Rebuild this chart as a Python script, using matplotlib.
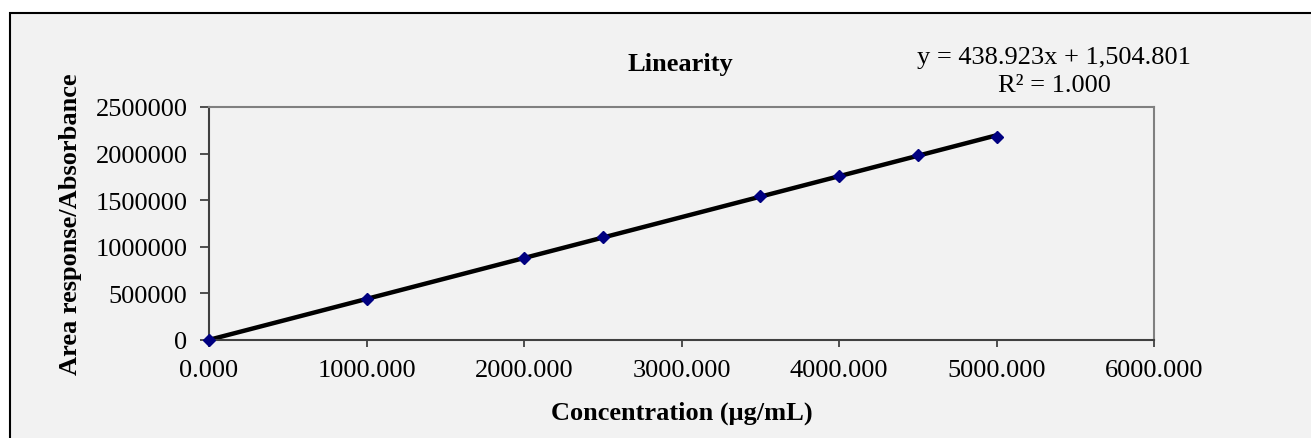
import numpy as np
import matplotlib
matplotlib.use("Agg")
import matplotlib.pyplot as plt
from matplotlib.patches import Rectangle
from matplotlib.ticker import FormatStrFormatter

# concentration (ug/mL) and response
conc = [0, 1000, 2000, 2500, 3500, 4000, 4500, 5000]
response = [0, 440000, 880000, 1100000, 1540000, 1760000, 1990000, 2180000]
slope = 438.923
intercept = 1504.801
x_ticks = [0, 1000, 2000, 3000, 4000, 5000, 6000]
y_ticks = [0, 500000, 1000000, 1500000, 2000000, 2500000]

plt.rcParams['font.family'] = ['Liberation Serif', 'DejaVu Serif']
bg = '#f2f2f2'
fs = 19

fig = plt.figure(figsize=(13.11, 4.39), dpi=100, facecolor='white')
# outer chart frame, behind the axes
frame = Rectangle((10 / 1311, -0.01), 1.0, 1 - 14 / 439 + 0.01,
                  transform=fig.transFigure, facecolor=bg,
                  edgecolor='black', linewidth=1.5, zorder=-1)
fig.add_artist(frame)

ax = fig.add_axes([209 / 1311, 1 - 341 / 439, (1154 - 209) / 1311, (341 - 108) / 439])
ax.set_zorder(1)
ax.set_facecolor(bg)

# trendline
xs = np.array([min(conc), max(conc)])
ax.plot(xs, slope * xs + intercept, color='black', lw=3.2, zorder=2)
ax.plot(conc, response, linestyle='none', marker='D', markersize=6.5,
        color='#000080', zorder=3, clip_on=False)

ax.set_xlim(0, 6000)
ax.set_ylim(0, 2500000)
ax.set_xticks(x_ticks)
ax.set_yticks(y_ticks)
ax.xaxis.set_major_formatter(FormatStrFormatter('%.3f'))
ax.yaxis.set_major_formatter(FormatStrFormatter('%d'))
ax.tick_params(direction='out', width=1.2, colors='#333333',
               labelcolor='black', labelsize=fs)
ax.tick_params(axis='x', length=5, pad=9)
ax.tick_params(axis='y', length=6.5, pad=9)

for s in ['top', 'right']:
    ax.spines[s].set_color('#808080')
    ax.spines[s].set_linewidth(1.5)
for s in ['left', 'bottom']:
    ax.spines[s].set_color('#404040')
    ax.spines[s].set_linewidth(1.5)

ax.set_xlabel('Concentration (μg/mL)', fontsize=fs, fontweight='bold', labelpad=14)
ax.set_ylabel('Area response/Absorbance', fontsize=fs, fontweight='bold', labelpad=10)

fig.text(680 / 1311, 1 - 64 / 439, 'Linearity', fontsize=fs, fontweight='bold',
         ha='center', va='center')
eq = 'y = {:.3f}x + {:,.3f}'.format(slope, intercept)
fig.text(1054 / 1311, 1 - 58 / 439, eq, fontsize=fs, ha='center', va='center')
fig.text(1054 / 1311, 1 - 86 / 439, 'R² = 1.000', fontsize=fs, ha='center', va='center')

fig.savefig('out.png', dpi=100, facecolor='white')
